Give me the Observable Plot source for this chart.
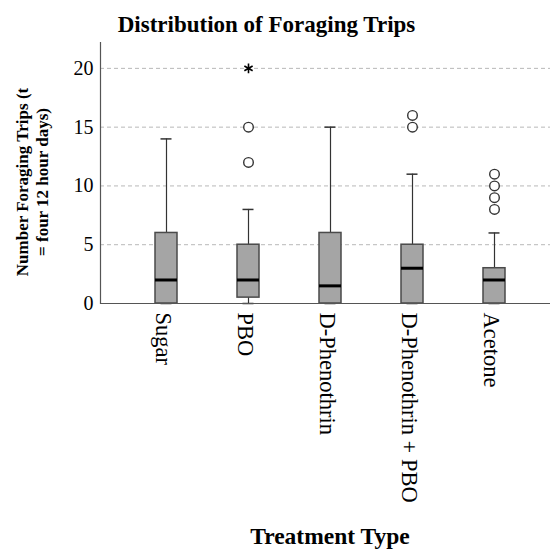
<!DOCTYPE html>
<html>
<head>
<meta charset="utf-8">
<script src="https://cdn.jsdelivr.net/npm/d3@7"></script>
<script src="https://cdn.jsdelivr.net/npm/@observablehq/plot@0.6"></script>
<style>
  html, body { margin: 0; padding: 0; background: #fff; }
  #wrap { position: relative; width: 550px; height: 550px; font-family: "Liberation Serif", "Times New Roman", serif; }
  #wrap svg { position: absolute; left: 0; top: 0; font-family: "Liberation Serif", "Times New Roman", serif !important; }
  #wrap svg text { font-family: "Liberation Serif", "Times New Roman", serif; }
  .title { position: absolute; left: 0; width: 533px; top: 14px; text-align: center; font-weight: bold; font-size: 23px; line-height: 22px; color: #000; }
  .xlabel { position: absolute; left: 0; width: 660px; top: 525px; text-align: center; font-weight: bold; font-size: 23.5px; line-height: 23px; color: #000; }
  .ylabel { position: absolute; left: 33px; top: 182px; width: 300px; transform: translate(-50%, -50%) rotate(-90deg); text-align: center; font-weight: bold; font-size: 17px; line-height: 20px; color: #000; }
</style>
</head>
<body>
<div id="wrap">
  <div class="title">Distribution of Foraging Trips</div>
  <div class="ylabel">Number Foraging Trips (t<br>= four 12 hour days)</div>
  <div class="xlabel">Treatment Type</div>
</div>
<script>
const categories = ["Sugar", "PBO", "D-Phenothrin", "D-Phenothrin + PBO", "Acetone"];
const whiskerLow = [0, 0, 0, 0, 0];
const q1 = [0, 0.5, 0, 0, 0];
const median = [2, 2, 1.5, 3, 2];
const q3 = [6, 5, 6, 5, 3];
const whiskerHigh = [14, 8, 15, 11, 6];
const outlierCats = ["PBO", "PBO", "D-Phenothrin + PBO", "D-Phenothrin + PBO", "Acetone", "Acetone", "Acetone", "Acetone"];
const outlierVals = [12, 15, 15, 16, 8, 9, 10, 11];
const extremeCats = ["PBO"];
const extremeVals = [20];
const yTicks = [0, 5, 10, 15, 20];
const yMax = 22.2;

const boxes = categories.map((c, i) => ({
  cat: c, lo: whiskerLow[i], q1: q1[i], med: median[i], q3: q3[i], hi: whiskerHigh[i]
}));
const outliers = outlierCats.map((c, i) => ({cat: c, v: outlierVals[i]}));
const extremes = extremeCats.map((c, i) => ({cat: c, v: extremeVals[i]}));

const font = "'Liberation Serif', 'Times New Roman', serif";

const chart = Plot.plot({
  width: 550,
  height: 550,
  marginTop: 42,
  marginBottom: 247,
  marginLeft: 100,
  marginRight: 0,
  style: `font-family: ${font}; background: transparent; color: #000;`,
  x: {type: "band", domain: categories, range: [123.75, 536.25], paddingInner: 0.735, paddingOuter: 0.3675, axis: null},
  y: {domain: [0, yMax], axis: null},
  marks: [
    Plot.ruleY(yTicks.filter(d => d > 0), {stroke: "#b8b8b8", strokeDasharray: "4,3", strokeWidth: 1}),
    Plot.axisY({ticks: yTicks, tickSize: 0, tickPadding: 7, fontSize: 20, fontFamily: font, label: null, tickFormat: d => String(d)}),
    Plot.text(categories, {x: d => d, frameAnchor: "bottom", rotate: 90, textAnchor: "start", lineAnchor: "middle", dy: 9, dx: -3, fontSize: 22.5, fontFamily: font, fill: "#000"}),
    Plot.ruleX(boxes, {x: "cat", y1: "lo", y2: "hi", stroke: "#333", strokeWidth: 1.2}),
    Plot.tickY(boxes, {x: "cat", y: "hi", stroke: "#333", strokeWidth: 1.5, insetLeft: 5.5, insetRight: 5.5}),
    Plot.tickY(boxes, {x: "cat", y: "lo", stroke: "#333", strokeWidth: 1.5, insetLeft: 5.5, insetRight: 5.5}),
    Plot.barY(boxes, {x: "cat", y1: "q1", y2: "q3", fill: "#a5a5a5", stroke: "#4a4a4a", strokeWidth: 1.5}),
    Plot.tickY(boxes, {x: "cat", y: "med", stroke: "#000", strokeWidth: 3}),
    Plot.dot(outliers, {x: "cat", y: "v", r: 4.8, stroke: "#333", fill: "#fff", strokeWidth: 1.4}),
    Plot.dot(extremes, {x: "cat", y: "v", symbol: "asterisk", r: 4.5, stroke: "#000", strokeWidth: 1.6}),
    Plot.ruleY([0], {stroke: "#555", strokeWidth: 1.2}),
    Plot.frame({anchor: "left", stroke: "#555", strokeWidth: 1.2})
  ]
});
document.getElementById("wrap").prepend(chart);
</script>
</body>
</html>
